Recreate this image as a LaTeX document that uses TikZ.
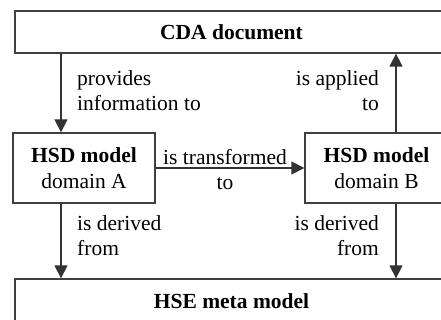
\documentclass[tikz,border=0pt]{standalone}
\usepackage{fontspec}
\setmainfont{Liberation Serif}
\usetikzlibrary{arrows.meta}
\begin{document}
\begin{tikzpicture}[x=1pt,y=-1pt,
  box/.style={draw=black!75,line width=1.3pt,fill=white,inner sep=0pt,
    align=center,font=\fontsize{21.5}{26}\selectfont},
  lbl/.style={inner sep=0pt,font=\fontsize{21.5}{25}\selectfont},
  arr/.style={draw=black!80,line width=1.3pt,-{Triangle[length=13pt,width=13pt]}}]
  \useasboundingbox (0,0) rectangle (441,320);
  \clip (0,0) rectangle (441,320);
  \fill[white] (0,0) rectangle (441,320);

  % boxes (the wide ones run past the right margin)
  \node[box,minimum width=433pt,minimum height=42pt] (cda) at (231.5,32) {\textbf{CDA document}};
  \node[box,minimum width=433pt,minimum height=44pt] (hse) at (231.5,301) {\textbf{HSE meta model}};
  \node[box,minimum width=142pt,minimum height=70pt] (ha) at (84,168) {\textbf{HSD model}\\domain A};
  \node[box,minimum width=143pt,minimum height=70pt] (hb) at (376.5,168) {\textbf{HSD model}\\domain B};

  % columns of the vertical connectors
  \coordinate (lx) at (61,0);
  \coordinate (rx) at (396,0);

  \draw[arr] (lx |- cda.south) -- (lx |- ha.north);
  \draw[arr] (rx |- hb.north) -- (rx |- cda.south);
  \draw[arr] (ha.east) -- (hb.west);
  \draw[arr] (lx |- ha.south) -- (lx |- hse.north);
  \draw[arr] (rx |- hb.south) -- (rx |- hse.north);

  % connector labels
  \node[lbl,anchor=north west,align=left] (l1) at (77,70.3) {provides\\information to};
  \node[lbl,anchor=north east,align=right] (l2) at (379,70.3) {is applied\\to};
  \node[lbl,anchor=north,align=center] (l3) at (225,149.5) {is transformed\\to};
  \node[lbl,anchor=north west,align=left] (l4) at (77,215.3) {is derived\\from};
  \node[lbl,anchor=north east,align=right] (l5) at (379,215.3) {is derived\\from};
\end{tikzpicture}
\end{document}
